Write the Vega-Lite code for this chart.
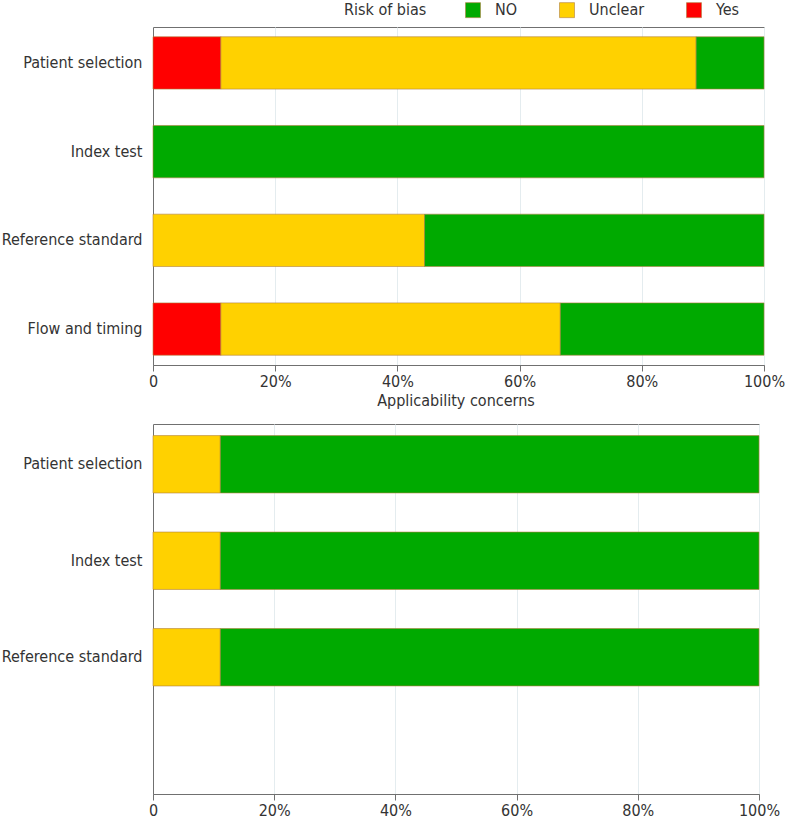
{
  "$schema": "https://vega.github.io/schema/vega-lite/v6.json",
  "padding": {"left": 0, "top": 2, "right": 2, "bottom": 0},
  "background": "white",
  "datasets": {
    "rob": [
      {"domain": "Patient selection", "judgement": "Yes", "count": 1},
      {"domain": "Patient selection", "judgement": "Unclear", "count": 7},
      {"domain": "Patient selection", "judgement": "NO", "count": 1},
      {"domain": "Index test", "judgement": "NO", "count": 9},
      {"domain": "Reference standard", "judgement": "Unclear", "count": 4},
      {"domain": "Reference standard", "judgement": "NO", "count": 5},
      {"domain": "Flow and timing", "judgement": "Yes", "count": 1},
      {"domain": "Flow and timing", "judgement": "Unclear", "count": 5},
      {"domain": "Flow and timing", "judgement": "NO", "count": 3}
    ],
    "app": [
      {"domain": "Patient selection", "judgement": "Unclear", "count": 1},
      {"domain": "Patient selection", "judgement": "NO", "count": 8},
      {"domain": "Index test", "judgement": "Unclear", "count": 1},
      {"domain": "Index test", "judgement": "NO", "count": 8},
      {"domain": "Reference standard", "judgement": "Unclear", "count": 1},
      {"domain": "Reference standard", "judgement": "NO", "count": 8}
    ]
  },
  "config": {
    "font": "DejaVu Sans Condensed, Liberation Sans Narrow, DejaVu Sans",
    "view": {"stroke": "#707070", "strokeWidth": 1},
    "axis": {
      "labelFontSize": 16,
      "labelColor": "#333333",
      "domainColor": "#707070",
      "tickColor": "#707070",
      "gridColor": "#e4ecef",
      "labelFont": "DejaVu Sans Condensed, Liberation Sans Narrow, DejaVu Sans"
    },
    "legend": {
      "labelFont": "DejaVu Sans Condensed, Liberation Sans Narrow, DejaVu Sans",
      "titleFont": "DejaVu Sans Condensed, Liberation Sans Narrow, DejaVu Sans"
    },
    "title": {"font": "DejaVu Sans Condensed, Liberation Sans Narrow, DejaVu Sans"}
  },
  "vconcat": [
    {
      "width": 611,
      "height": 338,
      "data": {"name": "rob"},
      "mark": {"type": "bar", "stroke": "#b08040", "strokeWidth": 1, "strokeOpacity": 0.6},
      "encoding": {
        "y": {
          "field": "domain",
          "type": "nominal",
          "sort": ["Patient selection", "Index test", "Reference standard", "Flow and timing"],
          "scale": {"domain": ["Patient selection", "Index test", "Reference standard", "Flow and timing"], "paddingInner": 0.41, "paddingOuter": 0.11},
          "axis": {"title": null, "ticks": false, "labelPadding": 11, "domain": true}
        },
        "x": {
          "field": "count",
          "type": "quantitative",
          "stack": "normalize",
          "scale": {"domain": [0, 1], "nice": false},
          "axis": {
            "title": null,
            "values": [0, 0.2, 0.4, 0.6, 0.8, 1],
            "labelExpr": "datum.value == 0 ? '0' : format(datum.value, '.0%')",
            "labelFlush": false,
            "tickSize": 6,
            "labelPadding": 2,
            "grid": true
          }
        },
        "color": {
          "field": "judgement",
          "type": "nominal",
          "scale": {"domain": ["NO", "Unclear", "Yes"], "range": ["#00aa00", "#ffd100", "#ff0000"]},
          "legend": {
            "title": "Risk of bias",
            "orient": "none",
            "direction": "horizontal",
            "legendX": 191,
            "legendY": -25,
            "titleOrient": "left",
            "titleFontSize": 16,
            "titleFontWeight": "normal",
            "titleColor": "#333333",
            "titlePadding": 38,
            "labelFontSize": 16,
            "labelColor": "#333333",
            "labelOffset": 14,
            "columnPadding": 40,
            "symbolType": "square",
            "symbolSize": 225,
            "symbolStrokeColor": "#555555",
            "symbolStrokeWidth": 0.6,
            "symbolOpacity": 1
          }
        },
        "order": {"field": "judgement", "sort": "descending"}
      }
    },
    {
      "width": 606,
      "height": 370,
      "data": {"name": "app"},
      "title": {"text": "Applicability concerns", "fontSize": 16, "fontWeight": "normal", "color": "#333333", "offset": 15},
      "mark": {"type": "bar", "stroke": "#b08040", "strokeWidth": 1, "strokeOpacity": 0.6},
      "encoding": {
        "y": {
          "field": "domain",
          "type": "nominal",
          "scale": {"domain": ["Patient selection", "Index test", "Reference standard", "Flow and timing"], "paddingInner": 0.405, "paddingOuter": 0.12},
          "axis": {"title": null, "ticks": false, "labelPadding": 11, "domain": true, "labelExpr": "datum.value == 'Flow and timing' ? '' : datum.value"}
        },
        "x": {
          "field": "count",
          "type": "quantitative",
          "stack": "normalize",
          "scale": {"domain": [0, 1], "nice": false},
          "axis": {
            "title": null,
            "values": [0, 0.2, 0.4, 0.6, 0.8, 1],
            "labelExpr": "datum.value == 0 ? '0' : format(datum.value, '.0%')",
            "labelFlush": false,
            "tickSize": 6,
            "labelPadding": 2,
            "grid": true
          }
        },
        "color": {"field": "judgement", "type": "nominal"},
        "order": {"field": "judgement", "sort": "descending"}
      }
    }
  ],
  "spacing": 2
}
